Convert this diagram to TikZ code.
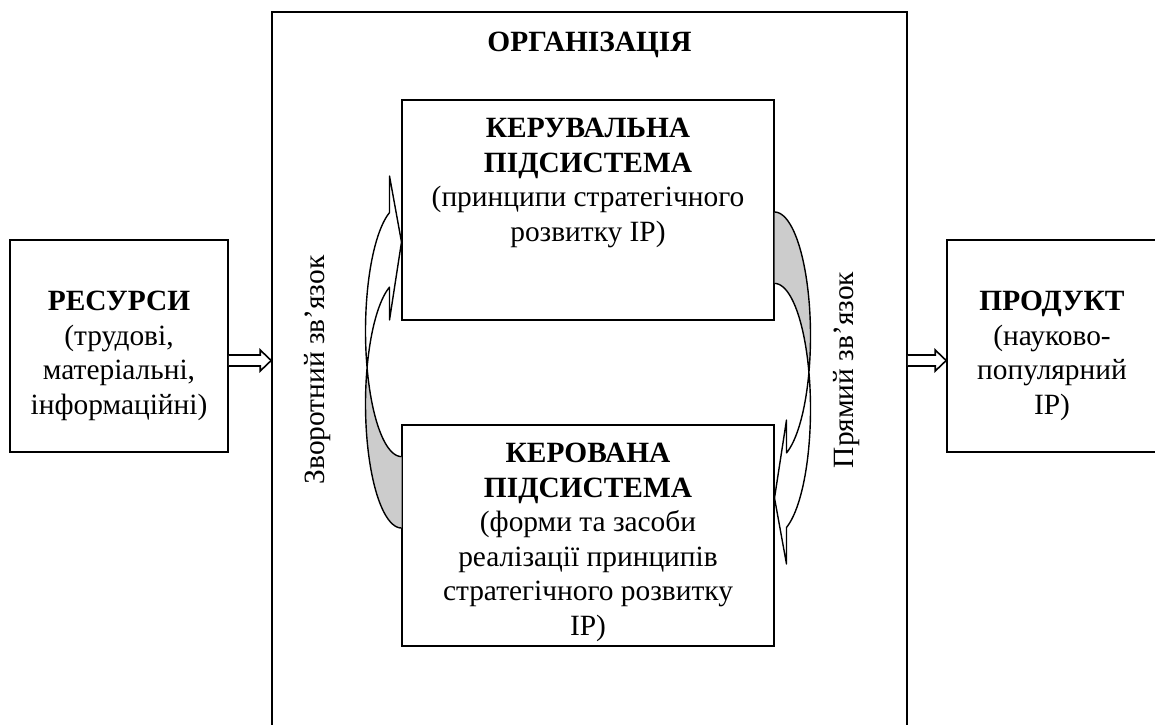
\documentclass[tikz,border=0pt]{standalone}
\usepackage{fontspec}
\setmainfont{Liberation Serif}
\usetikzlibrary{positioning,calc}
\definecolor{BackFace}{HTML}{CCCCCC}
\newcommand{\blockarrow}[2]{%
  \draw[line width=0.8pt,fill=white] ($(#1)+(0,-5.5)$) -- ($(#2)+(-11,-5.5)$)
    -- ($(#2)+(-11,-10.5)$) -- (#2) -- ($(#2)+(-11,10.5)$)
    -- ($(#2)+(-11,5.5)$) -- ($(#1)+(0,5.5)$);}

\begin{document}
\begin{tikzpicture}[x=0.5pt,y=-0.5pt,
    txt/.style={align=center,inner sep=0pt,font=\fontsize{14.7}{17.25}\selectfont},
    box/.style={draw,line width=0.8pt,inner sep=0pt},
    curvearrow/.style={line width=0.7pt,line join=round}]
  \clip (0,0) rectangle (1155,724);
  % organisation frame (bottom edge runs off the page)
  \node[box,minimum width=317.5pt,minimum height=370pt] (org) at (589.5,382) {};
  \node[txt,font=\fontsize{14.7}{17.25}\selectfont\bfseries] (orgtitle) at (589.5,45) {ОРГАНІЗАЦІЯ};
  % subsystems
  \node[box,minimum width=186pt,minimum height=110pt] (up) at (588,210) {};
  \node[txt,below=9.3pt of up.north] (uptext) {\textbf{КЕРУВАЛЬНА}\\\textbf{ПІДСИСТЕМА}\\(принципи стратегічного\\розвитку ІР)};
  \node[box,minimum width=186pt,minimum height=110.5pt] (low) at (588,535.5) {};
  \node[txt,below=9.3pt of low.north] (lowtext) {\textbf{КЕРОВАНА}\\\textbf{ПІДСИСТЕМА}\\(форми та засоби\\реалізації принципів\\стратегічного розвитку\\ІР)};
  % input and output
  \node[box,minimum width=109pt,minimum height=106pt] (res) at (119,346) {};
  \node[txt] (restext) at ($(res.center)+(0,10)$) {\textbf{РЕСУРСИ}\\(трудові,\\матеріальні,\\інформаційні)};
  \node[box,minimum width=105pt,minimum height=106pt] (prod) at (1052,346) {};
  \node[txt] (prodtext) at ($(prod.center)+(0,10)$) {\textbf{ПРОДУКТ}\\(науково-\\популярний\\ІР)};
  \coordinate (ins) at ($(res.east)+(0,14.5)$);
  \coordinate (ine) at (ins -| org.west);
  \coordinate (outs) at (ins -| org.east);
  \coordinate (oute) at (ins -| prod.west);
  \blockarrow{ins}{ine}
  \blockarrow{outs}{oute}
  % feedback (left) curved arrow
  \fill[BackFace] plot[domain=197:90,variable=\t,samples=40] ({401.5+36*cos(\t)},{404+124*sin(\t)})
    -- plot[domain=90:163,variable=\t,samples=30] ({401.5+36*cos(\t)},{331+125.6*sin(\t)}) -- cycle;
  \draw[curvearrow] plot[domain=90:250.5,variable=\t,samples=60] ({401.5+36*cos(\t)},{404+124*sin(\t)})
    -- (389.5,320) -- (401.5,242) -- (389.5,176)
    -- plot[domain=250.5:90,variable=\t,samples=60] ({401.5+36*cos(\t)},{331+125.6*sin(\t)});
  % direct (right) curved arrow
  \fill[BackFace] plot[domain=17:-90,variable=\t,samples=40] ({774.5+36*cos(\t)},{336+124*sin(\t)})
    -- plot[domain=-90:-17,variable=\t,samples=30] ({774.5+36*cos(\t)},{409+125.6*sin(\t)}) -- cycle;
  \draw[curvearrow] plot[domain=270:430.5,variable=\t,samples=60] ({774.5+36*cos(\t)},{336+124*sin(\t)})
    -- (786.5,420) -- (774.5,498) -- (786.5,564)
    -- plot[domain=430.5:270,variable=\t,samples=60] ({774.5+36*cos(\t)},{409+125.6*sin(\t)});
  % link labels
  \node[txt,rotate=90] (fblabel) at (318,370) {Зворотний зв’язок};
  \node[txt,rotate=90] (fflabel) at (847,370) {Прямий зв’язок};
\end{tikzpicture}
\end{document}
